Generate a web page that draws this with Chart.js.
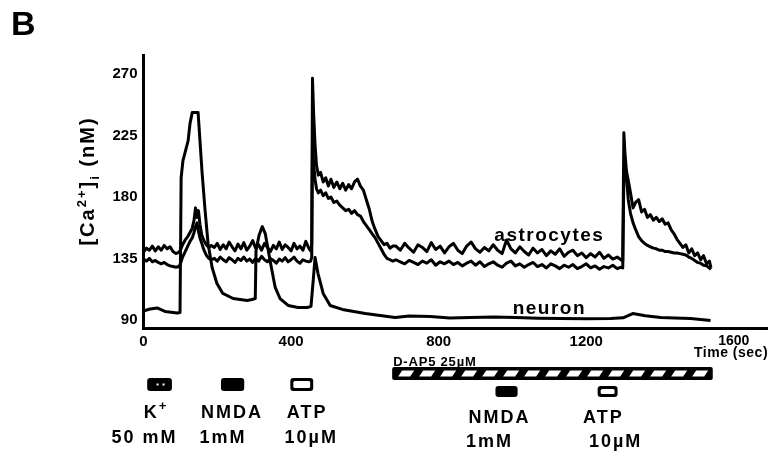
<!DOCTYPE html>
<html>
<head>
<meta charset="utf-8">
<script src="https://cdn.jsdelivr.net/npm/chart.js@4.4.1/dist/chart.umd.min.js"></script>
<style>
  html, body { margin: 0; padding: 0; background: #fff; }
  #wrap { width: 771px; height: 454px; position: relative; }
</style>
</head>
<body>
<div id="wrap"><canvas id="calciumChart"></canvas></div>
<script>
// time (sec) samples shared by the two astrocyte traces
const astroTime = [
  0, 8, 16, 24, 32, 40, 48, 56, 64, 72, 80, 88, 96,
  100, 106, 113, 120, 126, 132, 137, 141, 145, 149, 153, 158, 164, 170, 177, 184,
  192, 200, 208, 216, 224, 232, 240, 248, 256, 264, 272, 280, 288, 296, 304, 312, 320, 328, 336, 344,
  352, 360, 368, 376, 384, 392, 400, 408, 416, 424, 432, 440, 448, 453,
  456, 458, 461, 465, 469, 474, 480, 487, 494, 501, 508, 516, 524, 532, 540, 548, 556, 564, 572, 580,
  588, 596, 604, 612, 620, 628, 636, 644, 652, 660, 668, 676,
  684, 696, 708, 720, 732, 744, 756, 768, 780, 792, 804, 816, 828, 840, 852, 864, 876, 888, 900, 912,
  924, 936, 948, 960, 972, 984, 996, 1008, 1020, 1032, 1044, 1056, 1068, 1080, 1092, 1104, 1116, 1128,
  1140, 1152, 1164, 1176, 1188, 1200, 1212, 1224, 1236, 1248, 1260, 1272, 1284, 1294,
  1299, 1302, 1305, 1309, 1314, 1320, 1327, 1334, 1342, 1350, 1358, 1366, 1374, 1382, 1390, 1398,
  1406, 1414, 1422, 1430, 1438, 1446, 1454, 1462, 1470, 1478, 1486, 1494, 1502, 1510, 1518, 1526, 1534, 1538
];

// [Ca2+]i (nM), upper astrocyte trace
const astroA = [
  139.5, 142.5, 141, 144, 140.5, 143.5, 141, 144.5, 142, 143.5, 140, 138.5, 139.5,
  141, 145, 148.5, 151, 154, 157, 163, 172, 165, 170, 160, 152, 148, 145, 143, 144.5,
  143, 146, 141.5, 145, 142, 147, 143.5, 140.5, 145.5, 142, 146.5, 141, 144, 148, 142.5, 145, 141, 146, 143, 140,
  144.5, 142, 147, 141.5, 145, 143, 140.5, 146, 142, 144, 141, 147.5, 142.5, 140.5,
  145, 267, 242, 218, 203, 196, 198, 191, 194, 188, 193, 187, 191, 186, 190, 185, 189, 186, 191, 193,
  188, 185, 178, 171, 162, 156, 151, 148, 145, 146, 142.5, 144,
  144, 141, 146, 142.5, 139.5, 145, 143, 140, 146.5, 141.5, 144, 139, 143.5, 146, 141, 138.5, 144, 147, 142, 139.5,
  143, 140.5, 145, 141, 138.5, 148.5, 142, 139, 143.5, 140, 137.5, 142.5, 139, 141.5, 137, 140.5, 138, 142,
  136.5, 139.5, 141, 137, 139, 135.5, 138.5, 136, 139.5, 135, 137.5, 134.5, 136, 134,
  133, 227, 212, 199, 192, 183, 172, 176, 178, 169, 171, 165, 167, 163, 165, 162,
  164, 160, 161, 156, 153, 149, 146, 143, 145, 139, 142, 137, 139, 134, 137, 131, 133, 128
];

// [Ca2+]i (nM), lower astrocyte trace
const astroB = [
  134.5, 133, 135, 132.5, 133.5, 132, 131, 132, 130.5, 129.5, 129, 128.5, 129,
  131, 136, 140, 144, 147.5, 150, 154, 158, 161, 155, 150, 146, 141, 137.5, 135, 134,
  135, 133, 136, 134, 132.5, 135.5, 134, 132, 135, 133.5, 136, 133, 134.5, 132, 135, 133, 136.5, 134, 132.5, 135,
  133.5, 131.5, 134.5, 133, 135.5, 132.5, 134, 136, 133, 131.5, 134, 133, 132.5, 133,
  136, 221, 205, 193, 186, 183, 185, 181, 183, 179, 180, 176, 177, 174, 172, 170, 171, 168, 170, 167,
  166, 162, 159, 156, 153, 150, 146, 142, 138, 135, 134, 133,
  134, 132.5, 131, 133.5, 132, 130.5, 133, 131.5, 134, 130, 132.5, 131, 133, 130.5, 132, 129.5, 131.5, 133, 130, 132.5,
  129, 131, 132.5, 130, 128.5, 131.5, 133, 129.5, 131, 128.5, 130.5, 132, 129, 130.5, 128, 131, 129.5, 127.5,
  130, 128.5, 130.5, 127.5, 129, 131, 128, 129.5, 127, 129, 128, 130, 127.5, 128.5,
  128, 195, 205, 195, 178, 168, 161, 156, 151, 148, 146, 144.5, 143.5, 142.5, 142, 141,
  141, 140, 140, 139.5, 139, 139, 138.5, 138, 137.5, 136, 135, 133.5, 132, 131.5, 130, 129.5, 128, 127
];

// neuron trace
const neuronTime = [
  0, 4, 18, 37, 58, 75, 91, 99, 102, 107, 121, 126, 132, 148, 159, 167, 175, 186, 199, 215,
  243, 281, 294, 303, 305, 313, 322, 330, 343, 357, 370, 392, 419, 444, 454, 460, 465, 473, 487, 506,
  539, 601, 682, 720, 778, 830, 886, 950, 1008, 1070, 1130, 1200, 1266, 1300, 1326, 1360, 1402, 1440, 1483, 1537
];
const neuronCa = [
  96, 96.8, 97.9, 98.7, 96.1, 95.5, 95, 95.4, 194.2, 206.7, 221.3, 233.7, 241.8, 241.8, 197.1, 170, 145.9, 128.3, 116.6, 109.3,
  105.6, 104.2, 104.9, 105.6, 140.8, 151.7, 158.3, 153.2, 133.4, 113.7, 105.6, 100.5, 99, 99, 99.8, 118.8, 135.6, 123.9, 109.3, 100.5,
  97.6, 94.6, 91.7, 92.8, 92.4, 91.3, 91.7, 92, 91.7, 91.2, 91, 90.8, 91, 91.5, 94.6, 93, 91.7, 91.4, 91, 89.5
];

const yTicks = [90, 135, 180, 225, 270];
const xTicks = [0, 400, 800, 1200, 1600];

// trace names, placed at (time, Ca) of their baseline
const traceNames = ['astrocytes', 'neuron'];
const traceNameTime = [1098, 1098];
const traceNameCa = [148.1, 94.6];

// drug applications (sec)
const agents = ['K+', 'NMDA', 'ATP', 'NMDA', 'ATP'];
const agentConc = ['50 mM', '1mM', '10\u00b5M', '1mM', '10\u00b5M'];
const agentStart = [10, 210, 398, 954, 1231];
const agentEnd = [77, 273, 460, 1014, 1285];
const agentLabelAt = [31, 237, 441, 962, 1244];
const agentConcAt = [0, 213, 452, 935, 1277];
const blockerLabel = 'D-AP5 25\u00b5M';
const blockerStart = 674;
const blockerEnd = 1543;

const FONT = "'Liberation Sans', Arial, Helvetica, sans-serif";

function setFont(ctx, size, spacing) {
  ctx.font = `bold ${size}px ${FONT}`;
  ctx.letterSpacing = (spacing || 0) + 'px';
}

function centeredText(ctx, text, x, y, size, spacing) {
  setFont(ctx, size, spacing);
  const w = ctx.measureText(text).width - (spacing || 0);
  ctx.textAlign = 'left';
  ctx.fillText(text, x - w / 2, y);
}

// parts: [text, size, baseline shift]
function richText(ctx, parts, x, y, spacing) {
  const widths = parts.map(p => { setFont(ctx, p[1], spacing); return ctx.measureText(p[0]).width; });
  let cur = x - (widths.reduce((a, b) => a + b, 0) - spacing) / 2;
  ctx.textAlign = 'left';
  parts.forEach((p, i) => {
    setFont(ctx, p[1], spacing);
    ctx.fillText(p[0], cur, y + p[2]);
    cur += widths[i];
  });
}

function agentBar(ctx, name, x1, x2, top, h) {
  ctx.beginPath();
  ctx.roundRect(x1, top, x2 - x1, h, 3);
  ctx.fillStyle = '#000';
  ctx.fill();
  if (name === 'ATP') {
    ctx.fillStyle = '#fff';
    ctx.beginPath();
    ctx.roundRect(x1 + 3, top + 3, x2 - x1 - 6, h - 6, 1.5);
    ctx.fill();
  } else if (name === 'K+') {
    const c = (x1 + x2) / 2;
    ctx.fillStyle = '#fff';
    ctx.fillRect(c - 3, top + h / 2 - 1, 2, 2);
    ctx.fillRect(c + 3, top + h / 2 - 1, 2, 2);
  }
}

const decorations = {
  id: 'decorations',
  afterDraw(chart) {
    const ctx = chart.ctx;
    const xs = chart.scales.x, ys = chart.scales.y;
    ctx.save();
    ctx.fillStyle = '#000';
    ctx.textBaseline = 'alphabetic';

    // panel letter
    setFont(ctx, 34, 0);
    ctx.textAlign = 'left';
    ctx.fillText('B', 11, 35);

    // y axis title
    ctx.save();
    ctx.translate(87, 182);
    ctx.rotate(-Math.PI / 2);
    richText(ctx, [['[Ca', 20, 0], ['2+', 13, -8], [']', 20, 0], ['i', 13, 5], [' (nM)', 20, 0]], 0, 7, 2);
    ctx.restore();

    // x axis unit under the last tick
    ctx.fillStyle = '#000';
    centeredText(ctx, 'Time (sec)', xs.getPixelForValue(xTicks[xTicks.length - 1]) - 3, 357, 14, 0.5);

    // trace names
    traceNames.forEach((n, i) => {
      centeredText(ctx, n, xs.getPixelForValue(traceNameTime[i]), ys.getPixelForValue(traceNameCa[i]), 19, 1.5);
    });

    // D-AP5 hatched bar
    const hx1 = xs.getPixelForValue(blockerStart), hx2 = xs.getPixelForValue(blockerEnd);
    ctx.fillStyle = '#000';
    ctx.beginPath();
    ctx.roundRect(hx1, 367, hx2 - hx1, 13, 2);
    ctx.fill();
    ctx.fillStyle = '#fff';
    for (let x = hx1 + 6; x + 16 < hx2 - 3; x += 21) {
      ctx.beginPath();
      ctx.moveTo(x, 376.5);
      ctx.lineTo(x + 12, 376.5);
      ctx.lineTo(x + 16, 370.5);
      ctx.lineTo(x + 4, 370.5);
      ctx.closePath();
      ctx.fill();
    }
    ctx.fillStyle = '#000';
    setFont(ctx, 13, 0.8);
    ctx.textAlign = 'left';
    ctx.fillText(blockerLabel, hx1 + 1, 366);

    // agent bars and labels
    agents.forEach((name, i) => {
      const inBlock = agentStart[i] > blockerStart;
      const top = inBlock ? 386 : 378;
      const h = inBlock ? 11 : 13;
      agentBar(ctx, name, xs.getPixelForValue(agentStart[i]), xs.getPixelForValue(agentEnd[i]), top, h);
      ctx.fillStyle = '#000';
      const lx = xs.getPixelForValue(agentLabelAt[i]);
      const nameBase = inBlock ? 423 : 418;
      if (name === 'K+') {
        richText(ctx, [['K', 18, 0], ['+', 13, -8]], lx, nameBase, 2);
      } else {
        centeredText(ctx, name, lx, nameBase, 18, 2);
      }
      centeredText(ctx, agentConc[i], xs.getPixelForValue(agentConcAt[i]), inBlock ? 447 : 443, 18, 2);
    });

    ctx.restore();
  }
};

const toPoints = (ts, vs) => ts.map((t, i) => ({ x: t, y: vs[i] }));

new Chart(document.getElementById('calciumChart'), {
  type: 'line',
  data: {
    datasets: [
      { label: 'astrocyte 1', data: toPoints(astroTime, astroA) },
      { label: 'astrocyte 2', data: toPoints(astroTime, astroB) },
      { label: 'neuron', data: toPoints(neuronTime, neuronCa) }
    ]
  },
  options: {
    responsive: true,
    maintainAspectRatio: false,
    animation: false,
    layout: { padding: { top: 55, right: 4, bottom: 0, left: 0 } },
    plugins: { legend: { display: false }, tooltip: { enabled: false } },
    elements: {
      point: { radius: 0 },
      line: { borderWidth: 3, borderColor: '#000', tension: 0, borderJoinStyle: 'round' }
    },
    scales: {
      x: {
        type: 'linear',
        min: 0,
        max: 1690,
        grid: { display: false, drawTicks: false },
        border: { display: true, color: '#000', width: 3 },
        afterBuildTicks: s => { s.ticks = xTicks.map(v => ({ value: v })); },
        afterFit: s => { s.height = 126; },
        ticks: {
          color: '#000',
          padding: 5,
          maxRotation: 0,
          autoSkip: false,
          font: c => ({ family: FONT, weight: 'bold', size: c.index === xTicks.length - 1 ? 14 : 15 }),
          callback: v => String(v)
        }
      },
      y: {
        min: 84,
        max: 284,
        grid: { display: false, drawTicks: false },
        border: { display: true, color: '#000', width: 3 },
        afterBuildTicks: s => { s.ticks = yTicks.map(v => ({ value: v })); },
        afterFit: s => { s.width = 143.5; },
        ticks: {
          color: '#000',
          padding: 6,
          font: { family: FONT, weight: 'bold', size: 15 },
          callback: v => String(v)
        }
      }
    }
  },
  plugins: [decorations]
});
</script>
</body>
</html>
